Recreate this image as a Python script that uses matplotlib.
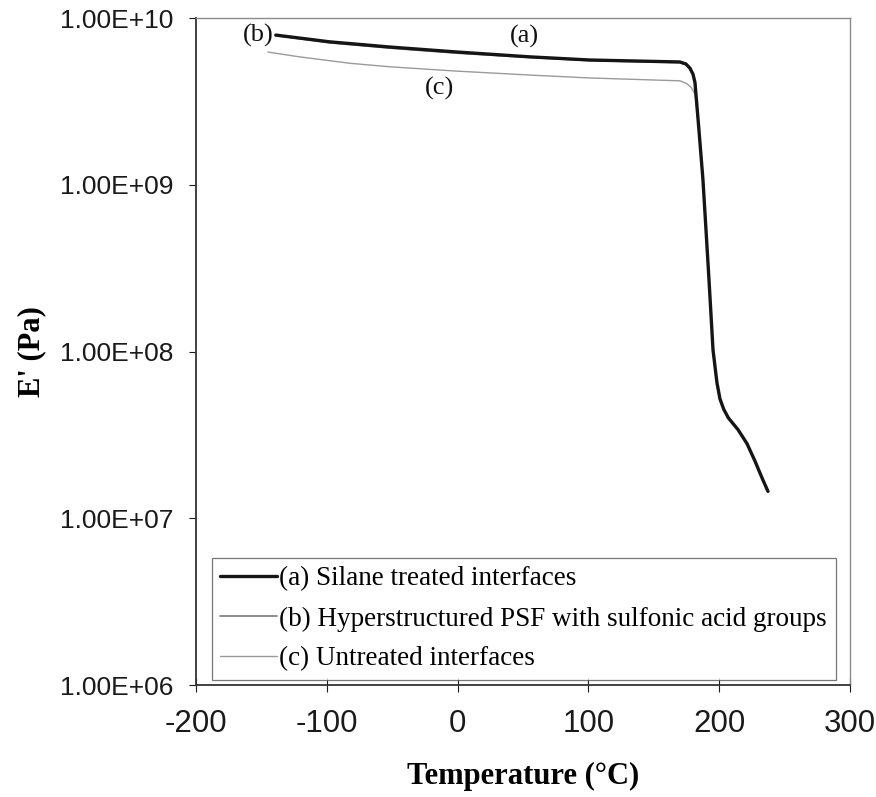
import matplotlib
matplotlib.use("Agg")
import matplotlib.pyplot as plt
from matplotlib.ticker import FuncFormatter, NullLocator, FixedLocator

plt.rcParams["axes.unicode_minus"] = False

# storage modulus E' (Pa) vs temperature (°C)
temp_a = [-139, -98, -52, 0, 55, 101, 170, 174.6, 177.7, 180, 181.5, 184.6, 187.6, 189.9, 192.2,
          195.3, 198.3, 200.6, 203.5, 207, 214.4, 221.3, 227.4, 232.7, 237.3]
mod_a = [7.9e9, 7.2e9, 6.7e9, 6.25e9, 5.85e9, 5.6e9, 5.45e9, 5.3e9, 5.0e9, 4.6e9, 4.1e9, 2.1e9, 1.07e9, 5.4e8, 2.7e8,
         1.02e8, 6.5e7, 5.2e7, 4.5e7, 4.0e7, 3.4e7, 2.8e7, 2.2e7, 1.75e7, 1.45e7]

temp_b = [-139, -98, -52, 0, 55, 101, 170, 174.6, 177.7, 180, 181.5, 184.6, 187.6, 189.9, 192.2,
          195.3, 198.3, 200.6, 203.5, 207, 214.4, 221.3, 227.4, 232.7, 237.3]
mod_b = [7.85e9, 7.1e9, 6.6e9, 6.15e9, 5.8e9, 5.55e9, 5.4e9, 5.25e9, 4.95e9, 4.55e9, 4.05e9, 2.1e9, 1.05e9, 5.3e8, 2.65e8,
         1.0e8, 6.4e7, 5.1e7, 4.5e7, 4.0e7, 3.4e7, 2.8e7, 2.2e7, 1.75e7, 1.45e7]

temp_c = [-145, -121, -82, -52, 0, 55, 101, 170, 175, 178.5, 181.5, 184.6, 187.6, 189.9, 192.2,
          195.3, 198.3, 200.6, 203.5, 207, 214.4, 221.3, 227.4, 232.7, 237.3]
mod_c = [6.25e9, 5.85e9, 5.35e9, 5.1e9, 4.8e9, 4.55e9, 4.37e9, 4.2e9, 4.05e9, 3.85e9, 3.5e9, 2.1e9, 1.05e9, 5.3e8, 2.65e8,
         1.0e8, 6.4e7, 5.1e7, 4.5e7, 4.0e7, 3.4e7, 2.8e7, 2.2e7, 1.75e7, 1.45e7]

labels = ["(a) Silane treated interfaces",
          "(b) Hyperstructured PSF with sulfonic acid groups",
          "(c) Untreated interfaces"]

x_ticks = [-200, -100, 0, 100, 200, 300]
y_ticks = [1e6, 1e7, 1e8, 1e9, 1e10]

serif = "Liberation Serif"
sans = "Liberation Sans"

fig = plt.figure(figsize=(8.76, 7.97), dpi=100)
ax = fig.add_axes([0.2237, 0.1405, 0.7466, 0.8369])

line_kw = dict(solid_joinstyle="round", solid_capstyle="round")
ax.plot(temp_c, mod_c, color="#9a9a9a", lw=1.0, label=labels[2], zorder=2, **line_kw)
ax.plot(temp_b, mod_b, color="#7a7a7a", lw=1.2, label=labels[1], zorder=3, **line_kw)
ax.plot(temp_a, mod_a, color="#151515", lw=2.4, label=labels[0], zorder=4, **line_kw)

ax.set_yscale("log")
ax.set_xlim(-200, 300)
ax.set_ylim(1e6, 1e10)
ax.xaxis.set_major_locator(FixedLocator(x_ticks))
ax.yaxis.set_major_locator(FixedLocator(y_ticks))
ax.yaxis.set_minor_locator(NullLocator())
ax.yaxis.set_major_formatter(FuncFormatter(lambda v, p: f"{v:.2E}"))

ax.tick_params(axis="y", direction="out", length=5, width=0.8, pad=11,
               labelsize=19, colors="#1a1a1a")
ax.tick_params(axis="x", direction="inout", length=10, width=0.8, pad=12,
               labelsize=22.5, colors="#1a1a1a")
for lab in ax.get_xticklabels() + ax.get_yticklabels():
    lab.set_fontfamily(sans)

for side in ["top", "right"]:
    ax.spines[side].set_color("#8c8c8c")
    ax.spines[side].set_linewidth(1.0)
for side in ["left", "bottom"]:
    ax.spines[side].set_color("#333333")
    ax.spines[side].set_linewidth(1.3)

ax.set_xlabel("Temperature (°C)", fontfamily=serif, fontweight="bold",
              fontsize=22, labelpad=17)
ax.set_ylabel("E' (Pa)", fontfamily=serif, fontweight="bold",
              fontsize=22, labelpad=10)

txt = dict(fontfamily=serif, fontsize=19, ha="center", va="center", color="#111111")
ax.text(51.5, 7.7e9, "(a)", **txt)
ax.text(-152.6, 7.9e9, "(b)", **txt)
ax.text(-14, 3.8e9, "(c)", **txt)

handles, labs = ax.get_legend_handles_labels()
order = [labs.index(l) for l in labels]
leg = ax.legend([handles[i] for i in order], [labs[i] for i in order],
                loc="lower left", bbox_to_anchor=(0.024, 0.008, 0.954, 0.2),
                mode="expand", borderaxespad=0, fancybox=False, frameon=True,
                handlelength=2.1, handletextpad=0.1, labelspacing=0.55,
                borderpad=0.3, prop={"family": serif, "size": 19.5})
leg.get_frame().set_edgecolor("#555555")
leg.get_frame().set_linewidth(0.9)

fig.savefig("out.png", dpi=100)
